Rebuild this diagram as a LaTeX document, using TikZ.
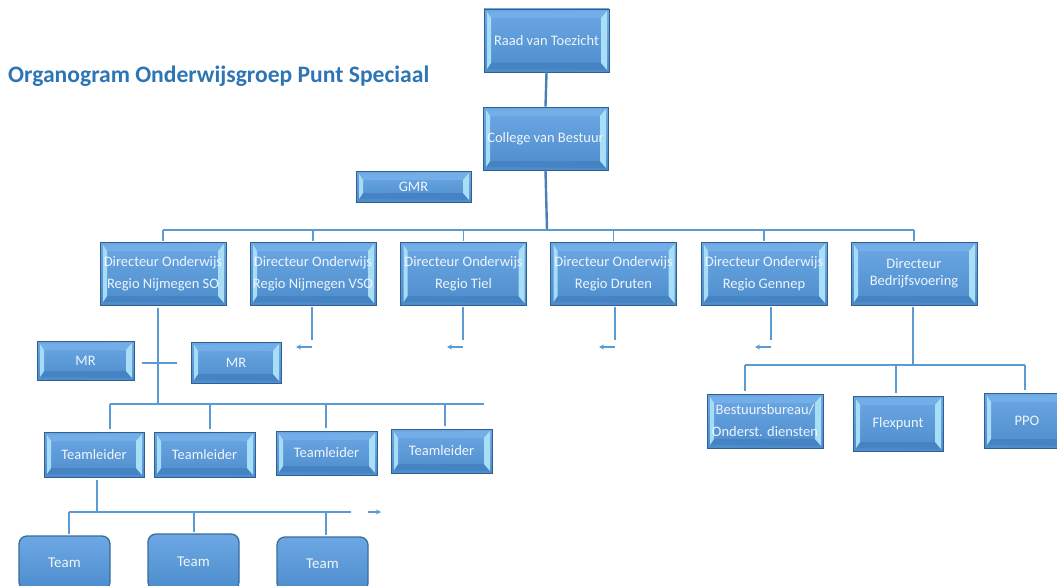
\documentclass[tikz,border=0pt]{standalone}
\usepackage{fontspec}
\setmainfont{Carlito}
\usetikzlibrary{arrows.meta,calc}
\definecolor{titleblue}{HTML}{2E75B6}
\definecolor{boxtop}{HTML}{6CA8E4}
\definecolor{boxbot}{HTML}{4D8CCC}
\definecolor{boxborder}{HTML}{30608F}
\definecolor{bevL}{HTML}{A6DCF6}
\definecolor{bevR}{HTML}{A9DEF7}
\definecolor{bevB}{HTML}{4683C2}
\definecolor{bevT}{HTML}{73AEE8}
\definecolor{boxtext}{HTML}{EEF5FC}
\definecolor{linkblue}{HTML}{5B9BD5}
\definecolor{spineblue}{HTML}{4C7FB2}
\definecolor{teamborder}{HTML}{3A6C9F}
\tikzset{
  bbox/.style={draw=boxborder, line width=0.9pt, top color=boxtop, bottom color=boxbot,
    text=boxtext, align=center, inner sep=0pt, font=\fontsize{14.5}{22}\selectfont,
    path picture={
      \coordinate (pnw) at (path picture bounding box.north west);
      \coordinate (pse) at (path picture bounding box.south east);
      \coordinate (pne) at (pse |- pnw);
      \coordinate (psw) at (pnw |- pse);
      \fill[bevT] ($(pnw)+(3pt,-3pt)$) -- ($(pnw)+(7pt,-9pt)$) -- ($(pne)+(-8pt,-9pt)$) -- ($(pne)+(-2pt,-2pt)$) -- cycle;
      \fill[bevB] ($(psw)+(3pt,3pt)$) -- ($(psw)+(7pt,9pt)$) -- ($(pse)+(-8pt,9pt)$) -- ($(pse)+(-2pt,2pt)$) -- cycle;
      \fill[bevL] ($(pnw)+(3pt,-3pt)$) -- ($(pnw)+(7pt,-9pt)$) -- ($(psw)+(7pt,9pt)$) -- ($(psw)+(3pt,3pt)$) -- cycle;
      \fill[bevR] ($(pne)+(-2pt,-2pt)$) -- ($(pne)+(-8pt,-9pt)$) -- ($(pse)+(-8pt,9pt)$) -- ($(pse)+(-2pt,2pt)$) -- cycle;
    }},
  teambox/.style={draw=teamborder, line width=1.3pt, rounded corners=8pt, top color=boxtop, bottom color=boxbot,
    text=boxtext, inner sep=0pt, font=\fontsize{15}{18}\selectfont, minimum width=91pt},
  link/.style={draw=linkblue, line width=1.7pt},
  spine/.style={draw=spineblue, line width=2.4pt},
  smallarrow/.style={draw=linkblue, line width=1.3pt, -{Stealth[length=5pt,width=5pt]}},
}
\begin{document}
\begin{tikzpicture}[x=1pt,y=-1pt]
\useasboundingbox (0,0) rectangle (1057,586);
\fill[white] (0,0) rectangle (1057,586);

% title
\node[anchor=base west, inner sep=0pt, text=titleblue, font=\fontsize{23.6}{28}\selectfont\bfseries] (title) at (8,82) {Organogram Onderwijsgroep Punt Speciaal};

% top
\node[bbox, minimum width=125pt, minimum height=63pt] (raad) at (546.5,40.5) {Raad van Toezicht};
\node[bbox, minimum width=125pt, minimum height=63pt] (college) at (545.5,138.5) {College van Bestuur};
\node[bbox, minimum width=115pt, minimum height=31pt] (gmr) at (413.5,186.5) {GMR};

% directors
\node[bbox, minimum width=126pt, minimum height=63pt] (d1) at (163,273.5) {Directeur Onderwijs\\Regio Nijmegen SO};
\node[bbox, minimum width=126pt, minimum height=63pt] (d2) at (313,273.5) {Directeur Onderwijs\\Regio Nijmegen VSO};
\node[bbox, minimum width=126pt, minimum height=63pt] (d3) at (463.5,273.5) {Directeur Onderwijs\\Regio Tiel};
\node[bbox, minimum width=126pt, minimum height=63pt] (d4) at (613.5,273.5) {Directeur Onderwijs\\Regio Druten};
\node[bbox, minimum width=126pt, minimum height=63pt] (d5) at (764,273.5) {Directeur Onderwijs\\Regio Gennep};
\node[bbox, minimum width=126pt, minimum height=63pt, font=\fontsize{14.5}{17}\selectfont] (d6) at (914,273.5) {Directeur\\Bedrijfsvoering};

% MR
\node[bbox, minimum width=97pt, minimum height=39pt] (mr1) at (85.5,360.5) {MR};
\node[bbox, minimum width=90pt, minimum height=41pt] (mr2) at (236,362.5) {MR};

% teamleiders
\node[bbox, minimum width=100pt, minimum height=45pt] (t1) at (94,454.5) {Teamleider};
\node[bbox, minimum width=101pt, minimum height=45pt] (t2) at (204.5,454.5) {Teamleider};
\node[bbox, minimum width=101pt, minimum height=44pt] (t3) at (326.5,453) {Teamleider};
\node[bbox, minimum width=101pt, minimum height=44pt] (t4) at (441.5,451) {Teamleider};

% teams
\node[teambox, minimum height=54pt] (team1) at (64.5,563) {Team};
\node[teambox, minimum height=56pt] (team2) at (193.5,562) {Team};
\node[teambox, minimum height=54pt] (team3) at (322.5,564) {Team};

% bedrijfsvoering
\node[bbox, minimum width=116pt, minimum height=54pt] (bb) at (765,421) {Bestuursbureau/\\Onderst. diensten};
\node[bbox, minimum width=90pt, minimum height=55pt] (flex) at (898,423.5) {Flexpunt};
\node[bbox, minimum width=86pt, minimum height=55pt] (ppo) at (1027,420.5) {PPO};

% coordinates
\coordinate (bus) at (547,230);
\coordinate (tlbus) at (158,404);
\coordinate (crossL) at (142,363);
\coordinate (crossR) at (177,363);
\coordinate (tlbusR) at (484,404);
\coordinate (tb1) at (110,404);
\coordinate (tb2) at (210,404);
\coordinate (tb3) at (326,404);
\coordinate (tb4) at (445,404);
\coordinate (tmbus) at (97,512);
\coordinate (tmbusL) at (69,512);
\coordinate (tmbusR) at (351,512);
\coordinate (tm2) at (194,512);
\coordinate (tm3) at (326,512);
\coordinate (arrT) at (368,512);
\coordinate (arrTend) at (381,512);
\coordinate (bvbus) at (913,365);
\coordinate (bvL) at (745,365);
\coordinate (bvM) at (896,365);
\coordinate (bvR) at (1025,365);
\coordinate (a2) at (312,340);
\coordinate (a3) at (463,340);
\coordinate (a4) at (615,340);
\coordinate (a5) at (771,340);

% spine
\draw[spine] (raad.south) -- (college.north);
\draw[spine] (college.south) -- (bus);
\draw[link] (d1.north |- bus) -- (d6.north |- bus);
\foreach \d in {d1,d2,d3,d4,d5,d6} \draw[link] (\d.north |- bus) -- ([yshift=1pt]\d.north);

% director drops with arrows
\draw[link] ([yshift=-3pt]d1.south -| tlbus) -- (tlbus);
\draw[link] (crossL) -- (crossR);
\foreach \a/\d in {a2/d2,a3/d3,a4/d4,a5/d5} {
  \draw[link, line width=1.3pt] ([yshift=-2pt]\d.south -| \a) -- (\a);
  \draw[smallarrow] ([yshift=-7pt]\a) -- ++(-16,0);
}

% teamleider bus
\draw[link] (tb1) -- (tlbusR);
\foreach \c/\t in {tb1/t1,tb2/t2,tb3/t3,tb4/t4} \draw[link] (\c) -- ([yshift=3pt]\c |- \t.north);

% teams
\draw[link] ([yshift=-3pt]t1.south -| tmbus) -- (tmbus);
\draw[link] (tmbusL) -- (tmbusR);
\foreach \c/\t in {tmbusL/team1,tm2/team2,tm3/team3} \draw[link] (\c) -- ([yshift=1pt]\c |- \t.north);
\draw[smallarrow] (arrT) -- (arrTend);

% bedrijfsvoering
\draw[link] ([yshift=-2pt]d6.south -| bvbus) -- (bvbus);
\draw[link] (bvL) -- (bvR);
\foreach \c/\t in {bvL/bb,bvM/flex,bvR/ppo} \draw[link] (\c) -- ([yshift=3pt]\c |- \t.north);
\end{tikzpicture}
\end{document}
